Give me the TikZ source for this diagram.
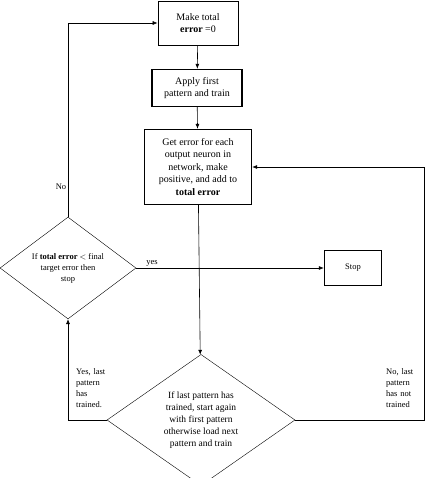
\documentclass[tikz,border=0pt]{standalone}
\usepackage{fontspec}
\setmainfont{Liberation Serif}
\usepackage{tikz}
\usetikzlibrary{shapes.geometric, arrows.meta, positioning}

\begin{document}
\begin{tikzpicture}[x=1pt, y=-1pt, font=\fontsize{8.5}{11}\selectfont,
  procbox/.style={draw, rectangle, align=center, inner sep=2pt, font=\fontsize{10}{12.5}\selectfont},
  decision/.style={draw, diamond, align=center, inner sep=0pt},
  arr/.style={-{Latex[length=5pt,width=4pt]}, line width=0.6pt},
  note/.style={align=left, inner sep=0pt, anchor=north west}]

  \useasboundingbox (0,0) rectangle (430,478);

  % Process boxes down the middle
  \node[procbox, line width=0.7pt, minimum width=80pt, minimum height=44pt] (make) at (198,23)
    {Make total\\\textbf{error} =0};
  \node[procbox, line width=1.4pt, minimum width=90pt, minimum height=37pt] (apply) at (197,88)
    {Apply first\\pattern and train};
  \node[procbox, line width=1.4pt, minimum width=107pt, minimum height=75pt] (geterr) at (198,167)
    {Get error for each\\output neuron in\\network, make\\positive, and add to\\\textbf{total error}};

  % Decisions
  \node[decision, minimum width=136pt, minimum height=98pt] (check) at (68,268)
    {If \textbf{total error} $<$ final\\target error then\\stop};
  \node[procbox, line width=1.4pt, minimum width=57pt, minimum height=35pt,
        font=\fontsize{8.5}{11}\selectfont] (stop) at (353,268) {Stop};
  \node[decision, minimum width=188pt, minimum height=116pt,
        font=\fontsize{9.5}{12}\selectfont] (last) at (201,420)
    {If last pattern has\\trained, start again\\with first pattern\\otherwise load next\\pattern and train};

  % Connectors
  \draw[arr] (make) -- (apply);
  \draw[arr] (apply) -- (geterr);
  \draw[arr] (geterr) -- (last);
  \draw[arr] (check) -- (stop);
  \node (yes) at (152,263) {yes};
  \coordinate (rtop) at (424,420);
  \draw[arr] (last.east) -- (rtop) |- (geterr.east);
  \draw[arr] (last.west) -| (check.south);
  \draw[arr] (check.north) |- (make.west);
  \node (no) at (61,187) {No};

  % Branch notes
  \node[note, text width=40pt] (yesnote) at (76,368) {Yes, last\\pattern\\has\\trained.};
  \node[note, text width=38pt] (nonote) at (386,368) {No, last\\pattern\\has not\\trained};

\end{tikzpicture}
\end{document}
